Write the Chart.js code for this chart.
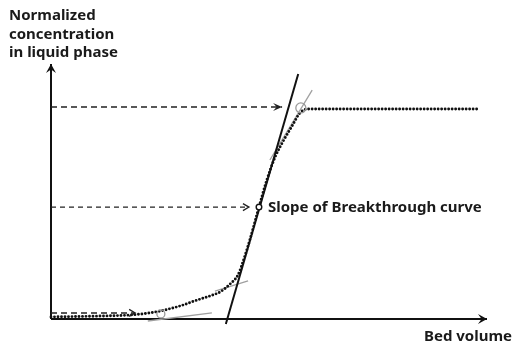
<!DOCTYPE html>
<html>
<head>
<meta charset="utf-8">
<script src="https://cdn.jsdelivr.net/npm/chart.js@4/dist/chart.umd.min.js"></script>
<style>
html,body{margin:0;padding:0;background:#fff;}
#wrap{position:relative;width:513px;height:347px;}
canvas{display:block;}
</style>
</head>
<body>
<div id="wrap"><canvas id="c" width="513" height="347"></canvas></div>
<script>
// ---- data (bed volume, normalized concentration) ----
const curveBV   = [0, 11.2, 18.1, 22.7, 26.1, 29.6, 33.5, 36.5, 38.8, 41.1, 42.9, 44.0, 45.6, 47.7, 49.5, 51.4, 53.4, 55.3, 57.1, 58.9, 97.7];
const curveC    = [0.01, 0.014, 0.019, 0.029, 0.043, 0.062, 0.090, 0.110, 0.129, 0.167, 0.210, 0.271, 0.376, 0.533, 0.662, 0.771, 0.852, 0.919, 0.981, 1.0, 1.0];
const slopeBV   = [40.1, 56.7];
const slopeC    = [-0.024, 1.167];
const tangentUpBV  = [50.2, 59.9];
const tangentUpC   = [0.757, 1.09];
const tangentMidBV = [37.6, 45.2];
const tangentMidC  = [0.133, 0.181];
const tangentLowBV = [22.2, 36.9];
const tangentLowC  = [-0.0095, 0.029];
const guideTopBV = [0, 53.0];   const guideTopC = [1.01, 1.01];
const guideMidBV = [0, 45.4];   const guideMidC = [0.533, 0.533];
const guideLowBV = [0, 19.3];   const guideLowC = [0.029, 0.029];
const markGrayBV = [57.3, 25.2]; const markGrayC = [1.005, 0.024];
const markMidBV  = [47.7];       const markMidC  = [0.533];
const xAxisBV = [0, 100];  const xAxisC = [0, 0];
const yAxisBV = [0, 0];    const yAxisC = [0, 1.214];
const labels = {
  yTitle: ["Normalized", "concentration", "in liquid phase"],
  xTitle: "Bed volume",
  slope: "Slope of Breakthrough curve"
};

const pts = (xs, ys) => xs.map((x, i) => ({x: x, y: ys[i]}));

const FONT = 'bold 15px "Noto Sans", "Open Sans", sans-serif';

const arrowPlugin = {
  id: 'arrows',
  afterDatasetsDraw(chart) {
    const ctx = chart.ctx, xs = chart.scales.x, ys = chart.scales.y;
    const P = (x, y) => [xs.getPixelForValue(x), ys.getPixelForValue(y)];
    function head(x0, y0, x1, y1, len, half, filled, color, lw) {
      const [ax, ay] = P(x0, y0), [bx, by] = P(x1, y1);
      const ang = Math.atan2(by - ay, bx - ax);
      ctx.save();
      ctx.translate(bx, by); ctx.rotate(ang);
      ctx.strokeStyle = color; ctx.fillStyle = color; ctx.lineWidth = lw;
      ctx.lineJoin = 'miter';
      ctx.beginPath();
      ctx.moveTo(-len, -half); ctx.lineTo(0, 0); ctx.lineTo(-len, half);
      if (filled) { ctx.lineTo(-len * 0.6, 0); ctx.closePath(); ctx.fill(); }
      else ctx.stroke();
      ctx.restore();
    }
    // axes
    head(xAxisBV[0], xAxisC[0], xAxisBV[1], xAxisC[1], 9, 5, true, '#111', 1);
    head(yAxisBV[0], yAxisC[0], yAxisBV[1], yAxisC[1], 9, 5, true, '#111', 1);
    // guide arrows
    head(guideTopBV[0], guideTopC[0], guideTopBV[1], guideTopC[1], 9, 4, true, '#222', 1.5);
    head(guideMidBV[0], guideMidC[0], guideMidBV[1], guideMidC[1], 6, 3.5, false, '#222', 1.3);
    head(guideLowBV[0], guideLowC[0], guideLowBV[1], guideLowC[1], 6, 3.5, false, '#222', 1.3);

    // texts
    ctx.save();
    ctx.fillStyle = '#1a1a1a';
    ctx.font = FONT;
    ctx.textBaseline = 'alphabetic';
    ctx.textAlign = 'left';
    const yl = labels.yTitle;
    ctx.fillText(yl[0], 9, 20);
    ctx.fillText(yl[1], 9, 38.5);
    ctx.fillText(yl[2], 9, 57);
    const [sx, sy] = P(markMidBV[0], markMidC[0]);
    ctx.fillText(labels.slope, sx + 9, sy + 5);
    ctx.textAlign = 'right';
    ctx.fillText(labels.xTitle, 512, 341);
    ctx.restore();
  }
};

const line = (xs, ys, color, w, dash, order, extra) => Object.assign({
  data: pts(xs, ys), showLine: true, pointRadius: 0, borderColor: color,
  borderWidth: w, borderDash: dash, fill: false, clip: false, order: order, tension: 0
}, extra || {});

new Chart(document.getElementById('c'), {
  type: 'scatter',
  data: {
    datasets: [
      line(xAxisBV, xAxisC, '#111', 2, [], 9),
      line(yAxisBV, yAxisC, '#111', 2, [], 9),
      line(tangentUpBV, tangentUpC, '#a0a0a0', 1.3, [], 8),
      line(tangentMidBV, tangentMidC, '#a0a0a0', 1.3, [], 8),
      line(tangentLowBV, tangentLowC, '#a0a0a0', 1.3, [], 8),
      line(guideTopBV, guideTopC, '#222', 1.5, [6, 4], 7),
      line(guideMidBV, guideMidC, '#222', 1.3, [5, 4], 7),
      line(guideLowBV, guideLowC, '#222', 1.5, [6, 4], 7),
      line(curveBV, curveC, '#111', 2.9, [0, 3.5], 5, {borderCapStyle: 'round', cubicInterpolationMode: 'monotone'}),
      line(slopeBV, slopeC, '#111', 2, [], 4),
      {data: pts(markGrayBV, markGrayC), pointRadius: [5, 4], pointBorderWidth: 1.3,
       pointBackgroundColor: 'rgba(255,255,255,0)', pointBorderColor: '#9a9a9a', showLine: false, clip: false, order: 3},
      {data: pts(markMidBV, markMidC), pointRadius: 2.8, pointBorderWidth: 1.4,
       pointBackgroundColor: '#fff', pointBorderColor: '#111', showLine: false, clip: false, order: 1}
    ]
  },
  options: {
    responsive: false,
    animation: false,
    layout: {padding: {left: 51, right: 26, top: 67, bottom: 28}},
    plugins: {legend: {display: false}, tooltip: {enabled: false}},
    events: [],
    scales: {
      x: {type: 'linear', min: 0, max: 100, display: false},
      y: {type: 'linear', min: 0, max: 1.2, display: false}
    }
  },
  plugins: [arrowPlugin]
});
</script>
</body>
</html>
